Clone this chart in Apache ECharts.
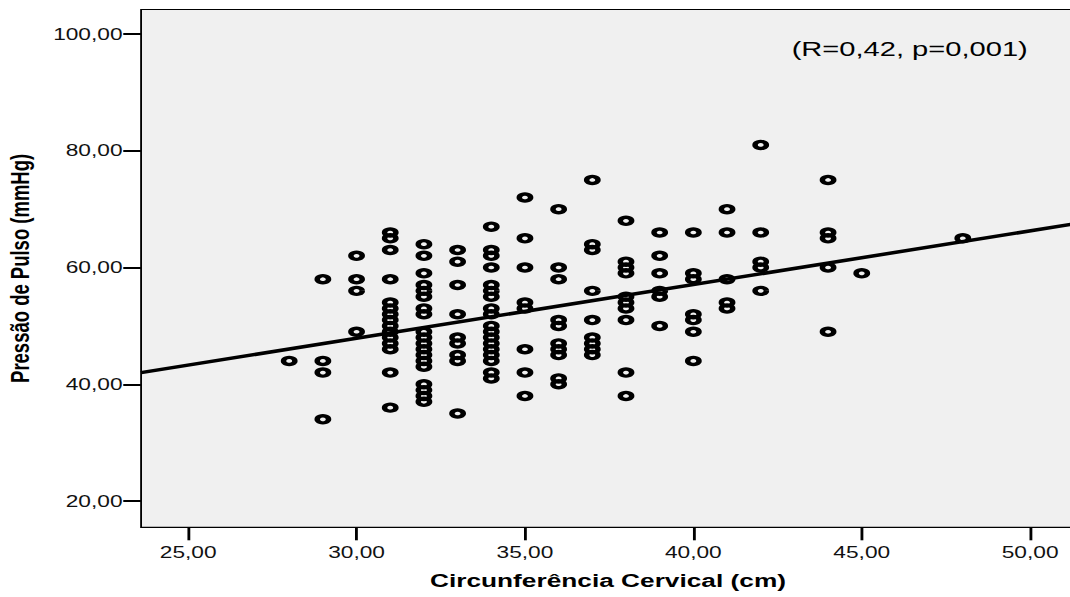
<!DOCTYPE html>
<html>
<head>
<meta charset="utf-8">
<title>Pressão de Pulso x Circunferência Cervical</title>
<script src="https://cdn.jsdelivr.net/npm/echarts@6/dist/echarts.min.js"></script>
<style>
    html, body { margin: 0; padding: 0; background: #fff; overflow: hidden; }
    /* o gráfico original está esticado na horizontal, por isso o scaleX */
    #main { width: 754px; height: 597px; transform: scaleX(1.42); transform-origin: 0 0; }
</style>
</head>
<body>
<div id="main"></div>
<script>
// circunferência cervical (cm) de cada coluna de pontos
const ccValues = [28, 29, 30, 31, 32, 33, 34, 35, 36, 37, 38, 39, 40, 41, 42, 44, 45, 48];
// pressão de pulso (mmHg) dos pontos de cada coluna
const ppValues = [
    [44],
    [58, 44, 42, 34],
    [62, 58, 56, 49],
    [66, 65, 63, 58, 54, 53, 52, 51, 50, 49, 48, 47, 46, 42, 36],
    [64, 62, 59, 57, 56, 55, 53, 52, 49, 48, 47, 46, 45, 44, 43, 40, 39, 38, 37],
    [63, 61, 57, 52, 48, 47, 45, 44, 35],
    [67, 63, 62, 60, 57, 56, 55, 53, 52, 50, 49, 48, 47, 46, 45, 44, 42, 41],
    [72, 65, 60, 54, 53, 46, 42, 38],
    [70, 60, 58, 51, 50, 47, 46, 45, 41, 40],
    [75, 64, 63, 56, 51, 48, 47, 46, 45],
    [68, 61, 60, 59, 55, 54, 53, 51, 42, 38],
    [66, 62, 59, 56, 55, 50],
    [66, 59, 58, 52, 51, 49, 44],
    [70, 66, 58, 54, 53],
    [81, 66, 61, 60, 56],
    [75, 66, 65, 60, 49],
    [59],
    [65]
];
// reta de regressão (extremos)
const fitX = [23.6, 51.33];
const fitY = [42.0, 67.5];

const xTicks = [25, 30, 35, 40, 45, 50];
const yTicks = [20, 40, 60, 80, 100];
const annotation = "(R=0,42, p=0,001)";

const fmt = v => v.toFixed(2).replace(".", ",");

let points = [];
for (let i = 0; i < ccValues.length; i++) {
    for (let j = 0; j < ppValues[i].length; j++) {
        points.push([ccValues[i], ppValues[i][j]]);
    }
}
let fitLine = fitX.map((x, i) => [x, fitY[i]]);

const font = "Liberation Sans";
let chart = echarts.init(document.getElementById("main"), null, { renderer: "svg" });

chart.setOption({
    animation: false,
    textStyle: { fontFamily: font },
    grid: {
        left: 99.3,
        top: 9.5,
        right: -3,
        bottom: 69.7,
        outerBoundsMode: "none",
        show: true,
        backgroundColor: "#f0f0f0",
        borderColor: "#000",
        borderWidth: 1
    },
    xAxis: {
        type: "value",
        min: 23.6,
        max: 51.33,
        name: "Circunferência Cervical (cm)",
        nameLocation: "middle",
        nameGap: 44,
        nameTextStyle: { fontFamily: font, fontSize: 18.5, fontWeight: "bold", color: "#000" },
        splitLine: { show: false },
        axisLine: { lineStyle: { color: "#000", width: 1 } },
        axisTick: { customValues: xTicks, length: 13, lineStyle: { color: "#000", width: 2 } },
        axisLabel: {
            customValues: xTicks,
            formatter: fmt,
            margin: 17,
            fontFamily: font,
            fontSize: 16,
            color: "#111"
        }
    },
    yAxis: {
        type: "value",
        min: 15.5,
        max: 104.2,
        name: "Pressão de Pulso (mmHg)",
        nameLocation: "middle",
        nameGap: 76,
        nameTextStyle: { fontFamily: font, fontSize: 18.5, fontWeight: "bold", color: "#000" },
        splitLine: { show: false },
        axisLine: { lineStyle: { color: "#000", width: 1 } },
        axisTick: { customValues: yTicks, length: 12.5, lineStyle: { color: "#000", width: 2 } },
        axisLabel: {
            customValues: yTicks,
            formatter: fmt,
            margin: 13,
            fontFamily: font,
            fontSize: 16,
            color: "#111"
        }
    },
    graphic: [
        {
            type: "text",
            x: 557.5,
            y: 48.4,
            style: {
                text: annotation,
                fontFamily: font,
                fontSize: 20.5,
                fill: "#000",
                align: "left",
                verticalAlign: "middle"
            }
        }
    ],
    series: [
        {
            type: "scatter",
            data: points,
            symbol: "circle",
            symbolSize: [8, 7],
            itemStyle: { color: "rgba(0,0,0,0)", borderColor: "#000", borderWidth: 3.6, opacity: 1 }
        },
        {
            type: "line",
            data: fitLine,
            symbol: "none",
            lineStyle: { color: "#000", width: 3.5 },
            z: 3
        }
    ]
});
</script>
</body>
</html>
